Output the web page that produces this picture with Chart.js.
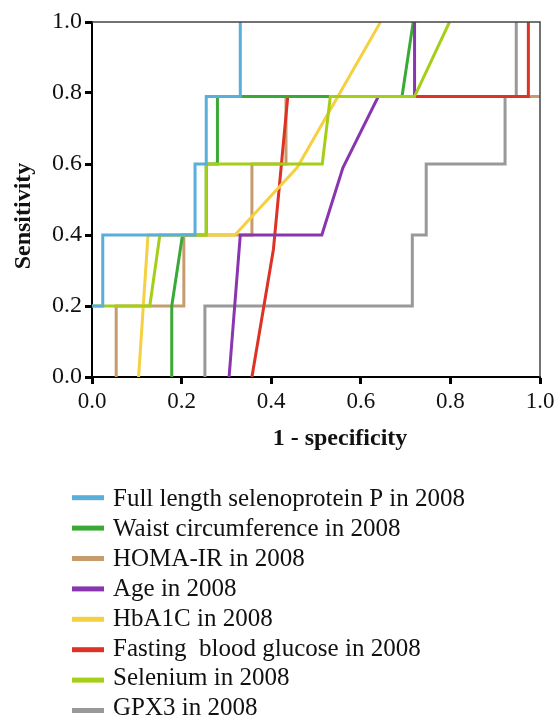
<!DOCTYPE html>
<html>
<head>
<meta charset="utf-8">
<script src="https://cdn.jsdelivr.net/npm/chart.js@4"></script>
<style>
html,body{margin:0;padding:0;background:#fff;}
#wrap{width:560px;height:718px;position:relative;}
</style>
</head>
<body>
<div id="wrap"><canvas id="c" width="560" height="718"></canvas></div>
<script>
// Series names (legend order)
const seriesNames = [
  "Full length selenoprotein P in 2008",
  "Waist circumference in 2008",
  "HOMA-IR in 2008",
  "Age in 2008",
  "HbA1C in 2008",
  "Fasting  blood glucose in 2008",
  "Selenium in 2008",
  "GPX3 in 2008"
];
const seriesColors = ["#5AAEDC","#3AA935","#C69C6D","#8A35B0","#F5D040","#DD3224","#A5CF16","#999999"];
const drawOrder = [0, 4, 6, 3, 2, 5, 1, 7]; // lower = drawn on top

// 1 - specificity (x) and sensitivity (y) for each ROC curve
const selenoPX = [0, 0.024, 0.024, 0.23, 0.23, 0.255, 0.255, 0.331, 0.331];
const selenoPY = [0.2, 0.2, 0.4, 0.4, 0.6, 0.6, 0.79, 0.79, 1.0];

const waistX = [0.178, 0.178, 0.202, 0.255, 0.255, 0.28, 0.28, 0.692, 0.717];
const waistY = [0, 0.2, 0.4, 0.4, 0.6, 0.6, 0.79, 0.79, 1.0];

const homaX = [0.054, 0.054, 0.205, 0.205, 0.357, 0.357, 0.433, 0.433, 1.0];
const homaY = [0, 0.2, 0.2, 0.4, 0.4, 0.6, 0.6, 0.79, 0.79];

const ageX = [0.306, 0.331, 0.513, 0.56, 0.639, 0.72, 0.72];
const ageY = [0, 0.4, 0.4, 0.589, 0.79, 0.79, 1.0];

const hba1cX = [0.104, 0.125, 0.319, 0.458, 0.644];
const hba1cY = [0, 0.4, 0.4, 0.59, 1.0];

const fbgX = [0.357, 0.405, 0.437, 0.974, 0.974];
const fbgY = [0, 0.36, 0.79, 0.79, 1.0];

const seleniumX = [0, 0.129, 0.1515, 0.255, 0.255, 0.514, 0.532, 0.72, 0.798];
const seleniumY = [0.2, 0.2, 0.4, 0.4, 0.6, 0.6, 0.79, 0.79, 1.0];

const gpx3X = [0.252, 0.252, 0.715, 0.715, 0.746, 0.746, 0.922, 0.922, 0.947, 0.947];
const gpx3Y = [0, 0.2, 0.2, 0.4, 0.4, 0.6, 0.6, 0.79, 0.79, 1.0];

const tickValues = [0.0, 0.2, 0.4, 0.6, 0.8, 1.0];
const xTitle = "1 - specificity";
const yTitle = "Sensitivity";

const seriesX = [selenoPX, waistX, homaX, ageX, hba1cX, fbgX, seleniumX, gpx3X];
const seriesY = [selenoPY, waistY, homaY, ageY, hba1cY, fbgY, seleniumY, gpx3Y];

Chart.defaults.font.family = "'Liberation Serif', 'Times New Roman', serif";
Chart.defaults.color = "#111";

const datasets = seriesNames.map((name, i) => ({
  label: name,
  data: seriesX[i].map((x, j) => ({x: x, y: seriesY[i][j]})),
  borderColor: seriesColors[i],
  backgroundColor: seriesColors[i],
  borderWidth: 3,
  pointRadius: 0,
  showLine: true,
  tension: 0,
  fill: false,
  order: drawOrder[i]
}));

const framePlugin = {
  id: 'frame',
  afterDatasetsDraw(chart) {
    const {ctx, chartArea: a} = chart;
    ctx.save();
    ctx.strokeStyle = '#444';
    ctx.lineWidth = 1.5;
    ctx.beginPath();
    ctx.moveTo(a.left, a.top);
    ctx.lineTo(a.right, a.top);
    ctx.lineTo(a.right, a.bottom);
    ctx.stroke();
    ctx.restore();
  }
};

const titlePlugin = {
  id: 'titles',
  afterDraw(chart) {
    const {ctx} = chart;
    ctx.save();
    ctx.fillStyle = '#111';
    ctx.font = "bold 24px 'Liberation Serif', serif";
    ctx.textAlign = 'center';
    ctx.textBaseline = 'middle';
    ctx.fillText(xTitle, 340, 439);
    ctx.translate(24, 216);
    ctx.rotate(-Math.PI / 2);
    ctx.fillText(yTitle, 0, 0);
    ctx.restore();
  }
};

const legendPlugin = {
  id: 'customLegend',
  afterDraw(chart) {
    const {ctx} = chart;
    ctx.save();
    ctx.font = "25px 'Liberation Serif', serif";
    ctx.textAlign = 'left';
    ctx.textBaseline = 'alphabetic';
    chart.data.datasets.forEach((ds, i) => {
      const y = 497.7 + i * 30.4;
      ctx.strokeStyle = ds.borderColor;
      ctx.lineWidth = 5;
      ctx.beginPath();
      ctx.moveTo(72, y);
      ctx.lineTo(104, y);
      ctx.stroke();
      ctx.fillStyle = '#111';
      ctx.fillText(ds.label, 113, 506 + i * 29.9);
    });
    ctx.restore();
  }
};

new Chart(document.getElementById('c'), {
  type: 'scatter',
  data: {datasets},
  options: {
    responsive: false,
    animation: false,
    devicePixelRatio: 1,
    layout: {padding: {top: 22, right: 20, left: 0, bottom: 0}},
    plugins: {legend: {display: false}, tooltip: {enabled: false}},
    scales: {
      x: {
        type: 'linear', min: 0, max: 1,
        afterBuildTicks(s) { s.ticks = tickValues.map(v => ({value: v})); },
        ticks: {callback: v => Number(v).toFixed(1), font: {size: 23}, color: '#111', padding: 4, maxRotation: 0, autoSkip: false},
        grid: {drawOnChartArea: false, drawTicks: true, tickLength: 7, tickWidth: 3, tickColor: '#000'},
        border: {color: '#000', width: 2},
        afterFit(s) { s.height = 341; }
      },
      y: {
        type: 'linear', min: 0, max: 1,
        afterBuildTicks(s) { s.ticks = tickValues.map(v => ({value: v})); },
        ticks: {callback: v => Number(v).toFixed(1), font: {size: 24}, color: '#111', padding: 3, autoSkip: false},
        grid: {drawOnChartArea: false, drawTicks: true, tickLength: 7, tickWidth: 3, tickColor: '#000'},
        border: {color: '#000', width: 2},
        afterFit(s) { s.width = 92; }
      }
    }
  },
  plugins: [framePlugin, titlePlugin, legendPlugin]
});
</script>
</body>
</html>
